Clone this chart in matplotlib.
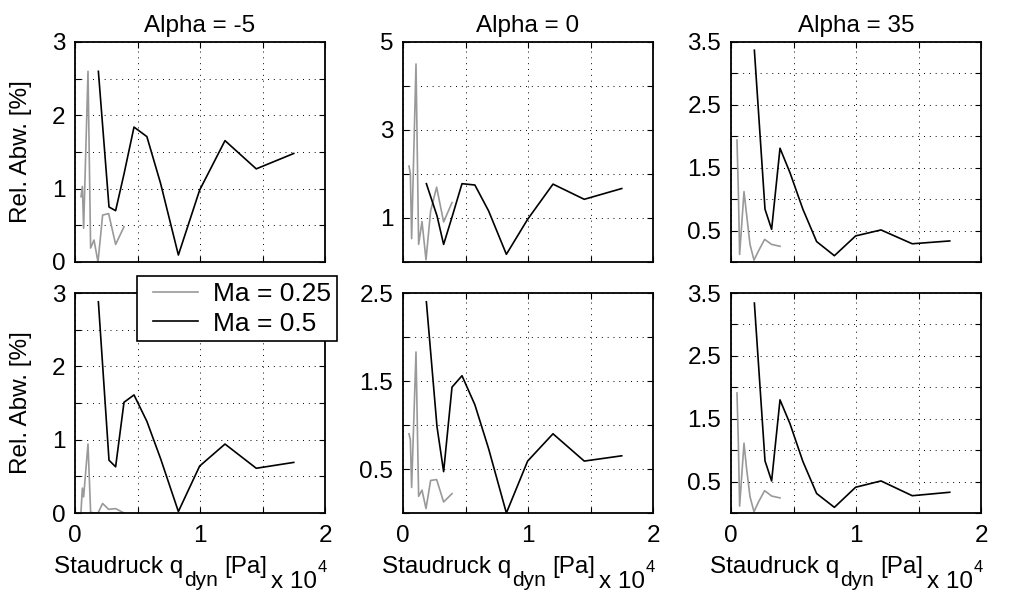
import numpy as np
import matplotlib
matplotlib.use('Agg')
import matplotlib.pyplot as plt

plt.rcParams['font.family'] = ['Liberation Sans', 'DejaVu Sans']

# Staudruck (x 10^4 Pa) for both Mach numbers
q_ma05 = [0.187, 0.272, 0.325, 0.392, 0.472, 0.575, 0.685, 0.827, 0.997, 1.2, 1.45, 1.75]
q_ma025 = [0.048, 0.059, 0.069, 0.104, 0.125, 0.152, 0.184, 0.221, 0.269, 0.325, 0.392]

alphas = ["-5", "0", "35"]

# rel. Abweichung [%], obere Reihe
top_ma05_m5 = [2.6, 0.75, 0.70, 1.2, 1.84, 1.71, 1.07, 0.095, 0.98, 1.655, 1.27, 1.48]
top_ma025_m5 = [0.89, 1.03, 0.46, 2.6, 0.19, 0.30, 0.0, 0.64, 0.66, 0.24, 0.48]
top_ma05_0 = [1.78, 1.05, 0.40, 1.02, 1.78, 1.75, 1.16, 0.175, 0.97, 1.77, 1.425, 1.67]
top_ma025_0 = [2.18, 2.0, 0.53, 4.5, 0.40, 0.92, 0.05, 1.16, 1.70, 0.91, 1.35]
top_ma05_35 = [3.37, 0.84, 0.52, 1.81, 1.42, 0.84, 0.325, 0.10, 0.415, 0.51, 0.29, 0.335]
top_ma025_35 = [1.94, 1.1, 0.12, 1.12, 0.75, 0.28, 0.03, 0.18, 0.36, 0.28, 0.25]

# rel. Abweichung [%], untere Reihe
bot_ma05_m5 = [2.88, 0.72, 0.63, 1.51, 1.61, 1.25, 0.74, 0.02, 0.64, 0.94, 0.61, 0.69]
bot_ma025_m5 = [0.02, 0.34, 0.22, 0.94, 0.01, 0.0, 0.0, 0.13, 0.05, 0.06, 0.0]
bot_ma05_0 = [2.40, 0.98, 0.47, 1.43, 1.56, 1.23, 0.73, 0.0, 0.59, 0.90, 0.59, 0.65]
bot_ma025_0 = [0.90, 0.83, 0.29, 1.83, 0.19, 0.26, 0.05, 0.37, 0.38, 0.125, 0.22]
bot_ma05_35 = [3.34, 0.83, 0.51, 1.80, 1.42, 0.82, 0.31, 0.09, 0.41, 0.51, 0.275, 0.33]
bot_ma025_35 = [1.91, 1.1, 0.11, 1.11, 0.7, 0.26, 0.02, 0.18, 0.355, 0.27, 0.24]

ma05 = [[top_ma05_m5, top_ma05_0, top_ma05_35], [bot_ma05_m5, bot_ma05_0, bot_ma05_35]]
ma025 = [[top_ma025_m5, top_ma025_0, top_ma025_35], [bot_ma025_m5, bot_ma025_0, bot_ma025_35]]

# y-Achsen: (max, Schrittweite, beschriftete Werte)
yaxes = [[(3, 0.5, [0, 1, 2, 3]), (5, 1, [1, 3, 5]), (3.5, 0.5, [0.5, 1.5, 2.5, 3.5])],
         [(3, 0.5, [0, 1, 2, 3]), (2.5, 0.5, [0.5, 1.5, 2.5]), (3.5, 0.5, [0.5, 1.5, 2.5, 3.5])]]

xticks = [0, 0.5, 1, 1.5, 2]
xlabels = ['0', '', '1', '', '2']

fs = 17.5
W, H = 1014, 592
lefts = [75, 403, 731]
tops = [42, 293]
aw, ah = 250, 220

fig = plt.figure(figsize=(W / 100, H / 100), dpi=100)

for r in range(2):
    for c in range(3):
        ax = fig.add_axes([lefts[c] / W, 1 - (tops[r] + ah) / H, aw / W, ah / H])
        l1, = ax.plot(q_ma025, ma025[r][c], color='#999999', lw=1.2, label='Ma = 0.25')
        l2, = ax.plot(q_ma05, ma05[r][c], color='black', lw=1.2, label='Ma = 0.5')

        ymax, step, lab = yaxes[r][c]
        yt = np.arange(0, ymax + step / 2, step)
        ytl = []
        for v in yt:
            hit = [s for s in lab if abs(s - v) < 1e-6]
            ytl.append(('%g' % hit[0]) if hit else '')
        ax.set_ylim(0, ymax)
        ax.set_yticks(yt)
        ax.set_yticklabels(ytl)
        ax.set_xlim(0, 2)
        ax.set_xticks(xticks)
        ax.set_xticklabels(xlabels if r == 1 else [''] * len(xticks))

        ax.grid(True, linestyle=(0, (1, 5)), color='black', linewidth=0.7)
        ax.tick_params(direction='in', top=True, right=True, length=4, width=0.8,
                       labelsize=fs, pad=7)
        ax.tick_params(axis='x', pad=9)
        for sp in ax.spines.values():
            sp.set_linewidth(1.3)

        if r == 0:
            ax.set_title('Alpha = ' + alphas[c], fontsize=fs, pad=7)
        else:
            # x-Beschriftung wie im Original aus Teilen zusammengesetzt
            t1 = ax.text(-0.084, -0.273, 'Staudruck q', transform=ax.transAxes,
                         ha='left', va='baseline', fontsize=fs)
            t2 = ax.annotate('dyn', xy=(1, 0), xycoords=t1, xytext=(0.5, -5.5),
                             textcoords='offset points', ha='left', va='baseline', fontsize=15)
            t3 = ax.annotate('[Pa]', xy=(1, 0), xycoords=(t2, t1), xytext=(4.5, 0),
                             textcoords='offset points', ha='left', va='bottom', fontsize=fs)
            t4 = ax.annotate('x 10', xy=(1, 0), xycoords=t3, xytext=(3, -10.5),
                             textcoords='offset points', ha='left', va='bottom', fontsize=fs)
            ax.annotate('4', xy=(1, 1), xycoords=t4, xytext=(0.5, 8),
                        textcoords='offset points', ha='left', va='top', fontsize=12)
        if c == 0:
            ax.set_ylabel('Rel. Abw. [%]', fontsize=fs)
            ax.yaxis.set_label_coords(-0.17, 0.5)

leg = fig.legend([l1, l2], ['Ma = 0.25', 'Ma = 0.5'], loc='upper left',
                 bbox_to_anchor=(137 / W, 1 - 276 / H), bbox_transform=fig.transFigure,
                 borderaxespad=0, fontsize=19, frameon=True, fancybox=False,
                 edgecolor='black', framealpha=1, handlelength=2.1,
                 handletextpad=0.55, borderpad=0.22, labelspacing=0.22)
leg.get_frame().set_linewidth(1.2)
# shorten the legend lines from the left so they sit inset like in the original
for ln in leg.get_lines():
    xd = np.asarray(ln.get_xdata(), dtype=float)
    ln.set_xdata(np.linspace(xd[0] + 0.18 * (xd[-1] - xd[0]), xd[-1], len(xd)))

fig.savefig('out.png', dpi=100)
